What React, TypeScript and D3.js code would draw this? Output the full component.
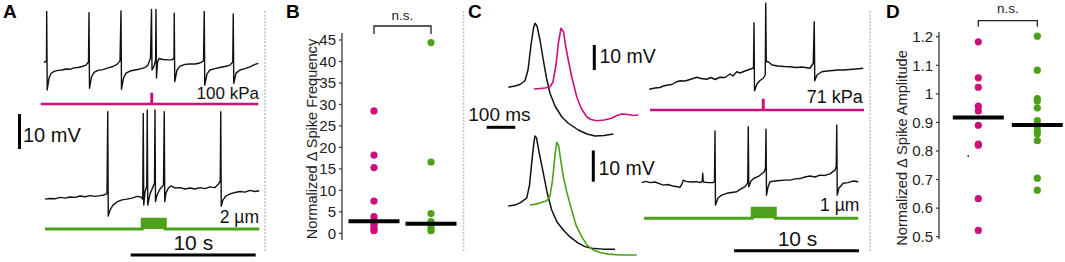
import React from "react";
import * as d3 from "d3";

type P = [number, number];

const PINK = "#cc0f7a";
const GREEN = "#4ca01a";
const INK = "#111111";
const FONT = "'Liberation Sans', Arial, Helvetica, sans-serif";

// ---------- Panel A: membrane potential traces, time (s) vs potential (mV, relative) ----------
const aTopTrace: P[] = [
  [0, 2.1], [0.2, 2.6], [0.216, 16.7], [0.256, -5.7], [0.4, -2.3], [0.56, -1.0], [0.8, -0.4], [1.12, -0.1],
  [1.44, 0], [1.76, 0.3], [2.08, 0.2], [2.4, 0.6], [2.72, 0.7], [3.04, 1.0], [3.36, 1.4], [3.56, 2.3],
  [3.6, 16.4], [3.64, -5.2], [3.8, -2.0], [4.0, -0.7], [4.32, -0.1], [4.72, 0.1], [5.12, 0.6], [5.52, 1.0],
  [5.84, 1.6], [6.08, 2.6], [6.16, 16.9], [6.2, -5.5], [6.36, -2.3], [6.56, -0.9], [6.88, -0.3], [7.28, 0],
  [7.68, 0.3], [8.08, 0.7], [8.32, 1.4], [8.52, 3.4], [8.6, 17.3], [8.64, 0], [8.8, 1.1], [8.93, 2.9],
  [8.96, 17.3], [9.0, -2.3], [9.08, 2.3], [9.2, 3.3], [9.52, 3.0], [9.92, 2.9], [10.24, 2.9], [10.4, 3.4],
  [10.42, 16.2], [10.46, -3.3], [10.64, 0], [10.88, 1.1], [11.28, 1.6], [11.68, 1.7], [12.08, 1.7], [12.48, 2.0],
  [12.76, 2.6], [12.82, 16.7], [12.86, -4.3], [13.04, -1.1], [13.28, 0], [13.68, 0.4], [14.08, 0.7], [14.48, 1.0],
  [14.88, 1.4], [15.1, 2.3], [15.14, 16.0], [15.18, -3.8], [15.36, -0.9], [15.68, 0], [16.08, 0.4], [16.48, 0.9],
  [16.88, 1.6], [17.14, 1.9],
];

const aBottomTrace: P[] = [
  [0.08, -0.9], [0.48, -0.7], [0.88, -0.8], [1.28, -0.4], [1.68, -0.6], [2.08, -0.3], [2.48, -0.4], [2.88, 0],
  [3.28, -0.2], [3.68, 0.1], [4.08, -0.1], [4.48, 0.1], [4.8, 0.3], [5.04, 0.7], [5.1, 24.1], [5.14, -5.7],
  [5.28, -4.0], [5.52, -2.6], [5.84, -1.7], [6.24, -1.1], [6.64, -0.9], [7.04, -0.6], [7.44, -0.1], [7.76, -0.3],
  [7.9, -0.9], [7.94, 23.6], [7.98, -2.6], [8.08, 1.1], [8.22, 2.9], [8.26, 24.6], [8.3, -2.6], [8.48, 0.6],
  [8.72, 2.6], [8.84, 3.6], [8.88, 24.6], [8.92, -1.6], [9.04, 0.3], [9.28, 2.0], [9.56, 3.1], [9.62, 24.1],
  [9.66, -1.6], [9.76, 0.9], [9.94, 2.2], [10.16, 2.9], [10.48, 2.3], [10.88, 2.4], [11.28, 2.0], [11.68, 2.3],
  [12.08, 2.0], [12.48, 2.4], [12.88, 2.1], [13.28, 2.6], [13.68, 2.4], [13.96, 3.4], [14.1, 4.3], [14.14, 24.1],
  [14.18, -2.9], [14.32, -1.1], [14.56, 0], [14.88, 0.6], [15.28, 1.0], [15.68, 1.3], [16.08, 1.1], [16.48, 1.6],
  [16.88, 1.3], [17.22, 1.5],
];

// Stimuli: time (s) vs pressure (kPa) / displacement (µm)
const aPressure: P[] = [[-0.26, 0], [8.6, 0], [8.6, 100], [8.64, 100], [8.64, 0], [17.14, 0]];
const aDisplacement: P[] = [[0.08, 0], [7.86, 0], [7.86, 2], [9.7, 2], [9.7, 0], [17.22, 0]];

// ---------- Panel C: single action potentials, time (ms) vs potential (mV) ----------
const cApBlackTop: P[] = [
  [1, -0.1], [24.5, 0.4], [42, 1.0], [59.5, 2.5], [70, 6.8], [80.5, 16.8], [89.3, 23.6], [94.5, 25.5],
  [101.5, 24.4], [112, 18.8], [123.6, 10.8], [134.8, 3.6], [147, -2.5], [164.5, -7.6], [188, -11.9],
  [210, -14.4], [246, -17.2], [276.5, -18.8], [304.5, -19.6], [336, -19.4], [368.6, -18.8],
];
const cApPink: P[] = [
  [91, -0.8], [112, -0.6], [129.5, -0.4], [147, 0.1], [157.5, 2.0], [168, 8.8], [176.8, 18.0], [185.5, 23.5],
  [194.3, 22.0], [203, 15.6], [211, 10.8], [224, 3.6], [240.5, -3.9], [255.5, -8.4], [275.5, -11.9],
  [290.5, -13.0], [310.5, -13.5], [336, -13.2], [363, -12.5], [381.5, -11.4], [398, -10.8], [420, -11.0],
  [441, -11.4], [456, -11.2],
];
const cApBlackBottom: P[] = [
  [1, 0], [24.5, 0.3], [42, 1.0], [65.5, 2.5], [75.3, 6.7], [84, 14.7], [91, 20.5], [94.5, 22.4], [99.8, 21.8],
  [108.5, 17.3], [123.6, 10.5], [136.5, 4.5], [153, -1.3], [171.5, -5.1], [193.6, -7.7], [217, -9.9],
  [246, -11.9], [269.5, -13.0], [293, -13.5], [332.5, -13.8], [374.5, -13.8],
];
const cApGreen: P[] = [
  [77, 0.3], [98, 0.6], [115.5, 1.1], [135.5, 1.7], [147, 3.2], [155.8, 8.3], [164.5, 16.3], [170.5, 20.4],
  [176.8, 19.5], [185.5, 14.1], [193.6, 9.4], [206.5, 4.2], [223, -1.3], [238, -6.1], [258, -9.8],
  [276.5, -12.5], [298.6, -14.1], [322, -14.9], [351, -15.4], [392, -15.7], [450.5, -15.7],
];

// Panel C: longer traces, time (s) vs potential (mV)
const cTopTrace: P[] = [
  [0.74, -3.7], [1.2, -3.2], [1.6, -3.0], [1.86, -2.4], [2.24, -2.0], [2.56, -1.8], [2.88, -0.8], [3.2, -0.3],
  [3.6, -0.4], [4.0, 0.2], [4.54, 1.1], [4.88, 0.6], [5.34, 0.3], [5.68, 1.0], [6.0, 0.2], [6.4, 1.1],
  [6.8, 1.0], [7.2, 2.4], [7.44, 1.6], [7.74, 3.3], [8.0, 2.8], [8.4, 3.6], [8.8, 4.3], [9.08, 4.8],
  [9.12, 22.9], [9.16, -4.3], [9.36, -1.6], [9.6, -0.2], [9.86, 0.7], [10.02, 2.0], [10.06, 30.7], [10.1, 7.3],
  [10.26, 7.3], [10.56, 6.0], [11.04, 5.6], [11.52, 5.4], [12.0, 5.3], [12.48, 5.0], [12.96, 5.2], [13.6, 4.7],
  [13.86, 6.7], [13.94, 23.3], [13.98, -0.3], [14.16, 2.0], [14.54, 3.3], [14.96, 3.6], [15.44, 3.8],
  [15.84, 4.0], [16.26, 4.0], [16.8, 4.2], [17.28, 4.4], [17.86, 4.7],
];
const cBottomTrace: P[] = [
  [0.14, -0.2], [0.48, 0.2], [0.8, -0.2], [1.2, 0], [1.6, -0.6], [1.86, -1.0], [2.24, -0.8], [2.64, -1.3],
  [3.2, -1.7], [3.36, -0.6], [3.46, 0.6], [3.68, 0.2], [4.08, 0], [4.54, 0.1], [4.8, -0.2], [4.98, 0.3],
  [5.02, 2.8], [5.06, 0], [5.44, -0.2], [5.86, -0.2], [5.96, 0.3], [6.0, 16.3], [6.04, -7.4], [6.24, -5.1],
  [6.54, -4.2], [7.04, -3.5], [7.74, -3.1], [8.08, -2.2], [8.4, -1.5], [8.62, -0.3], [8.66, 17.7], [8.7, -1.5],
  [8.88, 0.3], [9.12, 1.2], [9.52, 1.9], [9.94, 3.3], [10.04, 4.5], [10.08, 16.9], [10.12, -4.2], [10.24, -1.6],
  [10.4, 0.1], [10.8, 0.3], [11.2, 0.5], [11.6, 0.6], [12.0, 0.6], [12.4, 1.0], [12.8, 1.1], [13.2, 1.6],
  [13.6, 1.9], [14.0, 1.6], [14.4, 2.2], [14.8, 2.1], [15.2, 2.6], [15.6, 3.8], [15.7, 5.1], [15.74, 18.2],
  [15.78, -4.2], [15.92, -1.9], [16.26, -0.4], [16.64, -0.2], [17.04, 0.3], [17.46, 0.1],
];
const cPressure: P[] = [[0.8, 0], [9.84, 0], [9.84, 71], [9.88, 71], [9.88, 0], [17.92, 0]];
const cDisplacement: P[] = [[0.32, 0], [8.98, 0], [8.98, 1], [10.82, 1], [10.82, 0], [17.46, 0]];

// ---------- Panel B / D: scatter values ----------
const groups = ["Ultrasound", "Indentation"];
const freqUltrasound = [28.5, 18.2, 15.3, 7.5, 3.9, 3.1, 2.6, 2.1, 1.4, 0.9, 0.6];
const freqIndentation = [44.4, 16.6, 4.6, 2.7, 1.9, 1.2, 0.6];
const freqMedians = [2.8, 2.2];
const freqTicks = [0, 5, 10, 15, 20, 25, 30, 35, 40, 45];

const ampUltrasound = [1.182, 1.056, 1.023, 0.957, 0.94, 0.89, 0.824, 0.82, 0.633, 0.522];
const ampIndentation = [1.202, 1.083, 0.983, 0.975, 0.951, 0.906, 0.887, 0.871, 0.86, 0.836, 0.705, 0.663];
const ampMedians = [0.917, 0.891];
const ampTicks = [0.5, 0.6, 0.7, 0.8, 0.9, 1, 1.1, 1.2];
const ampStray = 0.782;

// ---------- scales ----------
const lin = (d0: number, d1: number, r0: number, r1: number) =>
  d3.scaleLinear().domain([d0, d1]).range([r0, r1]);

const xA = lin(0, 10, 44, 169);
const yATop = lin(0, 10, 70, 35);
const yABot = lin(0, 10, 196, 161);
const yAPress = lin(0, 100, 104, 93.9);
const yADisp = lin(0, 2, 229, 219.2);

const xC = lin(0, 10, 640, 765);
const yCTop = lin(0, 10, 80, 55);
const yCBot = lin(0, 10, 182, 150.75);
const yCPress = lin(0, 71, 110, 99.9);
const yCDisp = lin(0, 1, 218.3, 208.2);

const xAP = lin(0, 100, 508, 536.57);
const yAPTop = lin(0, 10, 87, 62);
const yAPBot = lin(0, 10, 206, 174.75);

const yB = lin(0, 45, 233.3, 40);
const xB = d3.scalePoint<string>().domain(groups).range([374, 431]);
const yD = lin(0.5, 1.2, 236.7, 36.7);
const xD = d3.scalePoint<string>().domain(groups).range([978.3, 1037.3]);

type S = d3.ScaleLinear<number, number>;

function Trace({ data, xs, ys, color = INK, width = 1.4 }: { data: P[]; xs: S; ys: S; color?: string; width?: number }) {
  const g = d3.line<P>().x((d) => xs(d[0])).y((d) => ys(d[1]));
  return <path d={g(data) || ""} fill="none" stroke={color} strokeWidth={width} strokeLinejoin="round" />;
}

function Stim({ data, xs, ys, color, width }: { data: P[]; xs: S; ys: S; color: string; width: number }) {
  const a = d3.area<P>().x((d) => xs(d[0])).y0(ys(0)).y1((d) => ys(d[1]));
  const l = d3.line<P>().x((d) => xs(d[0])).y((d) => ys(d[1]));
  return (
    <g>
      <path d={a(data) || ""} fill={color} />
      <path d={l(data) || ""} fill="none" stroke={color} strokeWidth={width} strokeLinejoin="miter" />
    </g>
  );
}

function Separator({ x }: { x: number }) {
  return <line x1={x} x2={x} y1={11} y2={251} stroke="#c4c4c4" strokeWidth={1.6} strokeDasharray="2 1.4" />;
}

function Scatter({
  xs, ys, ticks, fmt, series, medians, axisX, yTop, yBot, labelX, labelY, title,
  bracketY, bracketLeg, nsY,
}: {
  xs: d3.ScalePoint<string>; ys: S; ticks: number[]; fmt: (v: number) => string;
  series: number[][]; medians: number[]; axisX: number; yTop: number; yBot: number;
  labelX: number; labelY: number; title: string; bracketY: number; bracketLeg: number; nsY: number;
}) {
  const colors = [PINK, GREEN];
  const x0 = xs(groups[0]) as number;
  const x1 = xs(groups[1]) as number;
  return (
    <g fontFamily={FONT}>
      <line x1={axisX} x2={axisX} y1={yTop} y2={yBot} stroke="#3a3a3a" strokeWidth={1.3} />
      {ticks.map((t) => (
        <g key={t}>
          <line x1={axisX - 3} x2={axisX} y1={ys(t)} y2={ys(t)} stroke="#3a3a3a" strokeWidth={1.2} />
          <text x={axisX - 6} y={ys(t) + 5.3} textAnchor="end" fontSize={15} fill="#222">{fmt(t)}</text>
        </g>
      ))}
      <text transform={`translate(${labelX},${labelY}) rotate(-90)`} textAnchor="middle" fontSize={14.6} fill="#222">
        {title}
      </text>
      {series.map((vals, i) =>
        vals.map((v, j) => (
          <circle key={`${i}-${j}`} cx={xs(groups[i]) as number} cy={ys(v)} r={3.6} fill={colors[i]} />
        ))
      )}
      {medians.map((m, i) => {
        const cx = xs(groups[i]) as number;
        return <line key={i} x1={cx - 25.5} x2={cx + 25.5} y1={ys(m)} y2={ys(m)} stroke="#000" strokeWidth={4} />;
      })}
      <path
        d={`M${x0},${bracketY + bracketLeg}V${bracketY}H${x1}V${bracketY + bracketLeg}`}
        fill="none" stroke="#222" strokeWidth={1.3}
      />
      <text x={(x0 + x1) / 2} y={nsY} textAnchor="middle" fontSize={13.5} fill="#222">n.s.</text>
    </g>
  );
}

export default function App() {
  const label = (t: string, x: number) => (
    <text x={x} y={18} fontFamily={FONT} fontWeight="bold" fontSize={19} fill="#000">{t}</text>
  );
  const txt = (t: string, x: number, y: number, size: number, anchor: string = "start") => (
    <text x={x} y={y} fontFamily={FONT} fontSize={size} textAnchor={anchor as any} fill="#111">{t}</text>
  );
  return (
    <div style={{ position: "fixed", left: 0, top: 0 }}>
      <svg width={1065} height={262} viewBox="0 0 1065 262" style={{ display: "block", background: "#fff" }}>
        <rect width={1065} height={262} fill="#fff" />
        <Separator x={265} />
        <Separator x={463.5} />
        <Separator x={870} />

        {/* Panel A */}
        {label("A", 3)}
        <Trace data={aTopTrace} xs={xA} ys={yATop} />
        <Trace data={aBottomTrace} xs={xA} ys={yABot} />
        <Stim data={aPressure} xs={xA} ys={yAPress} color={PINK} width={2.4} />
        <Stim data={aDisplacement} xs={xA} ys={yADisp} color={GREEN} width={3} />
        {txt("100 kPa", 259, 99, 17, "end")}
        {txt("2 µm", 259, 222.5, 17.5, "end")}
        <line x1={19.5} x2={19.5} y1={149} y2={149 - (yABot(0) - yABot(10))} stroke="#000" strokeWidth={3} />
        {txt("10 mV", 23, 142, 20)}
        <line x1={130.7} x2={130.7 + (xA(10) - xA(0))} y1={255} y2={255} stroke="#000" strokeWidth={3} />
        {txt("10 s", 193.3, 250, 21, "middle")}

        {/* Panel B */}
        {label("B", 286)}
        <Scatter
          xs={xB} ys={yB} ticks={freqTicks} fmt={(v) => String(v)}
          series={[freqUltrasound, freqIndentation]} medians={freqMedians}
          axisX={342} yTop={33} yBot={240} labelX={317} labelY={139}
          title="Normalized Δ Spike Frequency" bracketY={26} bracketLeg={8} nsY={20}
        />

        {/* Panel C */}
        {label("C", 468)}
        <Trace data={cApBlackTop} xs={xAP} ys={yAPTop} width={1.5} />
        <Trace data={cApPink} xs={xAP} ys={yAPTop} color={PINK} width={1.6} />
        <Trace data={cApBlackBottom} xs={xAP} ys={yAPBot} width={1.5} />
        <Trace data={cApGreen} xs={xAP} ys={yAPBot} color={GREEN} width={1.6} />
        {txt("100 ms", 468.3, 121, 19)}
        <line x1={486.7} x2={486.7 + (xAP(100) - xAP(0))} y1={127.3} y2={127.3} stroke="#000" strokeWidth={3} />
        <line x1={594.3} x2={594.3} y1={70} y2={70 - (yAPTop(0) - yAPTop(10))} stroke="#000" strokeWidth={3} />
        {txt("10 mV", 599.5, 63.3, 19.5)}
        <line x1={593.3} x2={593.3} y1={181.7} y2={181.7 - (yAPBot(0) - yAPBot(10))} stroke="#000" strokeWidth={3} />
        {txt("10 mV", 598.5, 175, 19.5)}

        <Trace data={cTopTrace} xs={xC} ys={yCTop} />
        <Trace data={cBottomTrace} xs={xC} ys={yCBot} />
        <Stim data={cPressure} xs={xC} ys={yCPress} color={PINK} width={2.4} />
        <Stim data={cDisplacement} xs={xC} ys={yCDisp} color={GREEN} width={3} />
        {txt("71 kPa", 862.7, 102.7, 18, "end")}
        {txt("1 µm", 859.3, 211, 17.5, "end")}
        <line x1={734} x2={734 + (xC(10) - xC(0))} y1={250.7} y2={250.7} stroke="#000" strokeWidth={3} />
        {txt("10 s", 797.5, 246, 21, "middle")}

        {/* Panel D */}
        {label("D", 886)}
        <Scatter
          xs={xD} ys={yD} ticks={ampTicks} fmt={(v) => String(v)}
          series={[ampUltrasound, ampIndentation]} medians={ampMedians}
          axisX={939} yTop={32} yBot={239} labelX={907} labelY={148}
          title="Normalized Δ Spike Amplitude" bracketY={20.7} bracketLeg={6} nsY={12.7}
        />
        <circle cx={(xD(groups[0]) as number) - 10} cy={yD(ampStray)} r={0.9} fill="#222" />
      </svg>
    </div>
  );
}
